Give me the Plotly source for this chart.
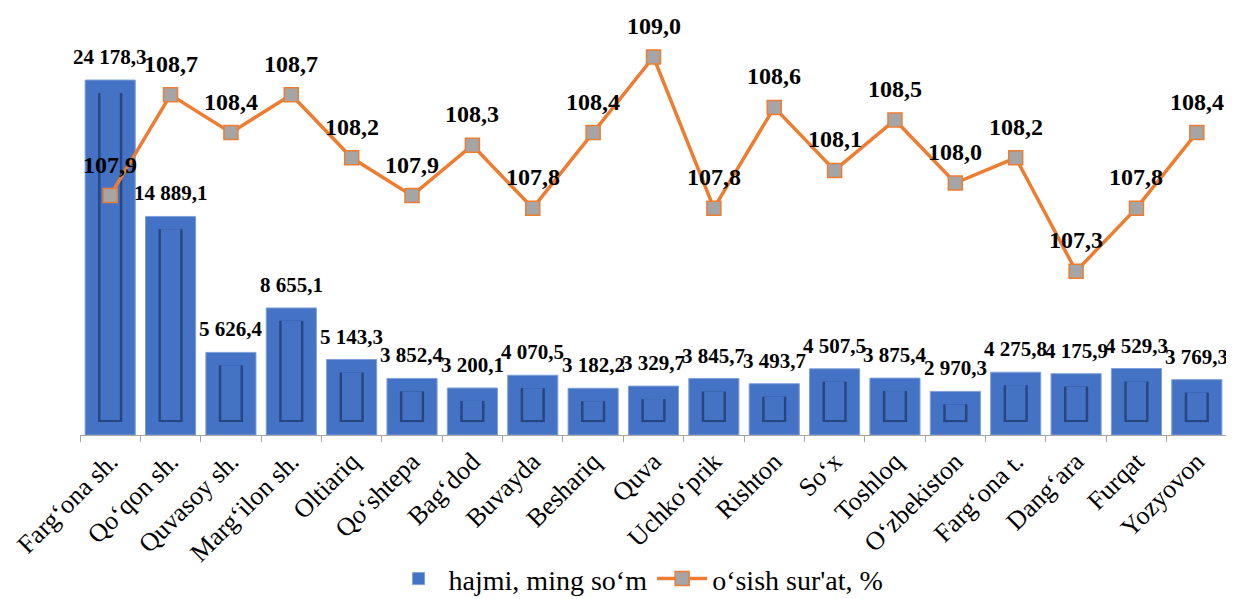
import plotly.graph_objects as go

categories = ["Fargʻona sh.", "Qoʻqon sh.", "Quvasoy sh.", "Margʻilon sh.", "Oltiariq",
              "Qoʻshtepa", "Bagʻdod", "Buvayda", "Beshariq", "Quva", "Uchkoʻprik",
              "Rishton", "Soʻx", "Toshloq", "Oʻzbekiston", "Fargʻona t.", "Dangʻara",
              "Furqat", "Yozyovon"]
volume = [24178.3, 14889.1, 5626.4, 8655.1, 5143.3, 3852.4, 3200.1, 4070.5, 3182.2,
          3329.7, 3845.7, 3493.7, 4507.5, 3875.4, 2970.3, 4275.8, 4175.9, 4529.3, 3769.3]
growth = [107.9, 108.7, 108.4, 108.7, 108.2, 107.9, 108.3, 107.8, 108.4, 109.0,
          107.8, 108.6, 108.1, 108.5, 108.0, 108.2, 107.3, 107.8, 108.4]

bar_name = "hajmi, ming soʻm"
line_name = "oʻsish sur'at, %"

SERIF = "Liberation Serif"
BLUE = "#4472C4"
DARK = "#27467F"
ORANGE = "#ED7D31"


def fmt(v):
    return f"{v:,.1f}".replace(",", " ").replace(".", ",")


# bevel inset (style constant, in bar-axis units)
INSET = 880
EDGE = 140

fig = go.Figure()
fig.add_trace(go.Bar(x=categories, y=volume, name=bar_name, width=0.83,
                     marker=dict(color=BLUE, line=dict(color="#7F9FD8", width=1)),
                     hoverinfo="skip"))
fig.add_trace(go.Bar(x=categories, y=[max(v - 2 * INSET, 0) for v in volume],
                     base=INSET, width=0.40, showlegend=False,
                     marker=dict(color=DARK, line=dict(width=0)), hoverinfo="skip"))
fig.add_trace(go.Bar(x=categories, y=[max(v - 2 * INSET - EDGE, 0) for v in volume],
                     base=INSET + EDGE, width=0.32, showlegend=False,
                     marker=dict(color=BLUE, line=dict(width=0)), hoverinfo="skip"))
fig.add_trace(go.Scatter(x=categories, y=growth, name=line_name, yaxis="y2",
                         mode="lines+markers",
                         line=dict(color=ORANGE, width=3.5),
                         marker=dict(symbol="square", size=14, color="#A5A5A5",
                                     line=dict(color=ORANGE, width=1.5))))

annotations = []
for c, v in zip(categories, volume):
    annotations.append(dict(x=c, y=v, xref="x", yref="y", text="<b>" + fmt(v) + "</b>",
                            showarrow=False, yshift=23,
                            font=dict(family=SERIF, size=21, color="black")))
for c, v in zip(categories, growth):
    annotations.append(dict(x=c, y=v, xref="x", yref="y2", text="<b>" + fmt(v) + "</b>",
                            showarrow=False, yshift=31,
                            font=dict(family=SERIF, size=24, color="black")))

fig.update_layout(
    width=1226, height=591,
    margin=dict(l=72, r=7, t=0, b=164, autoexpand=False),
    plot_bgcolor="white", paper_bgcolor="white",
    barmode="overlay",
    showlegend=True,
    font=dict(family=SERIF, color="black"),
    legend=dict(orientation="h", x=0.487, xanchor="center", y=-0.337, yanchor="middle",
                font=dict(family=SERIF, size=28, color="black"), itemwidth=50,
                traceorder="normal"),
    xaxis=dict(range=[-0.5, 18.5], showline=True, linecolor="#A6A6A6", linewidth=1,
               ticks="outside", tickson="boundaries", ticklen=6, tickcolor="#A6A6A6",
               tickangle=-45, automargin=False,
               tickfont=dict(family=SERIF, size=26, color="black"), showgrid=False),
    yaxis=dict(range=[0, 29087], visible=False, showgrid=False, automargin=False),
    yaxis2=dict(range=[106.0, 109.389], overlaying="y", side="right", visible=False,
                showgrid=False, automargin=False),
    annotations=annotations,
)

fig.write_html("out.html")
